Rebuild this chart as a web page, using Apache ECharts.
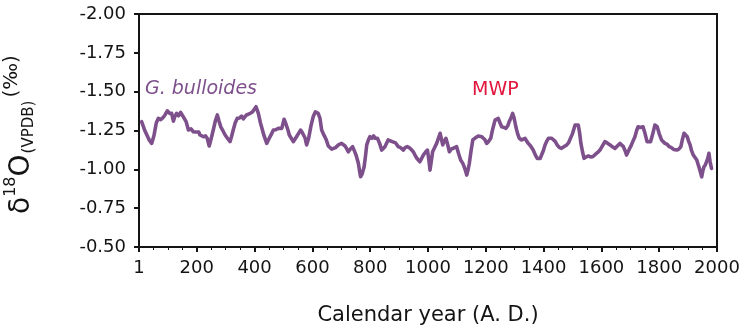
<!DOCTYPE html>
<html><head><meta charset="utf-8">
<script src="https://cdn.jsdelivr.net/npm/echarts/dist/echarts.min.js"></script>
<style>html,body{margin:0;padding:0;background:#fff}#c{width:743px;height:336px}</style>
</head><body><div id="c"></div>
<script>
// Calendar year (A.D.)
const years = [9,20,35,44,52,60,67,75,84,90,98,106,113,119,124,130,137,144,153,163,171,180,188,195,200,207,211,217,223,230,236,243,250,257,264,271,277,283,290,298,306,315,320,326,333,340,348,355,361,367,372,378,385,393,399,405,413,420,424,432,442,448,453,459,465,473,482,488,494,502,507,511,516,520,527,534,540,545,552,559,564,569,575,580,587,595,603,610,615,620,626,632,640,648,655,661,667,672,680,690,696,701,707,713,718,724,731,739,745,751,759,764,767,772,779,784,788,794,799,806,812,817,825,832,840,846,851,857,862,868,874,880,888,897,905,910,915,921,928,935,944,950,955,962,967,972,978,984,991,998,1003,1007,1012,1016,1023,1030,1036,1042,1047,1051,1056,1062,1068,1074,1080,1085,1092,1099,1106,1113,1120,1125,1130,1134,1139,1143,1149,1155,1162,1168,1174,1180,1186,1191,1197,1203,1210,1217,1224,1232,1238,1243,1249,1255,1262,1270,1276,1281,1287,1293,1298,1304,1310,1316,1324,1330,1336,1342,1347,1355,1364,1372,1378,1382,1388,1393,1399,1405,1412,1417,1422,1428,1434,1440,1447,1455,1462,1470,1480,1486,1491,1500,1509,1515,1520,1525,1529,1535,1540,1547,1555,1562,1570,1576,1581,1588,1595,1603,1612,1620,1630,1638,1647,1655,1664,1670,1676,1682,1687,1694,1701,1709,1716,1722,1727,1735,1744,1751,1758,1764,1770,1778,1785,1793,1800,1808,1814,1820,1828,1835,1842,1850,1856,1861,1868,1875,1880,1886,1891,1897,1902,1907,1912,1918,1924,1930,1935,1939,1943,1947,1951,1955,1960,1964,1968,1972,1976,1981];
// delta 18O (VPDB, per mil)
const d18O = [-1.307,-1.25,-1.19,-1.167,-1.22,-1.30,-1.328,-1.32,-1.335,-1.35,-1.377,-1.36,-1.36,-1.31,-1.34,-1.36,-1.345,-1.367,-1.339,-1.307,-1.253,-1.26,-1.242,-1.24,-1.232,-1.24,-1.221,-1.225,-1.21,-1.215,-1.2,-1.15,-1.2,-1.253,-1.31,-1.35,-1.31,-1.274,-1.25,-1.221,-1.2,-1.178,-1.21,-1.253,-1.3,-1.328,-1.33,-1.343,-1.325,-1.328,-1.35,-1.35,-1.36,-1.371,-1.38,-1.403,-1.36,-1.3,-1.274,-1.22,-1.167,-1.19,-1.2,-1.23,-1.253,-1.255,-1.264,-1.258,-1.264,-1.322,-1.3,-1.296,-1.25,-1.221,-1.2,-1.178,-1.195,-1.21,-1.23,-1.253,-1.24,-1.232,-1.2,-1.157,-1.2,-1.28,-1.34,-1.37,-1.377,-1.36,-1.33,-1.253,-1.22,-1.19,-1.15,-1.146,-1.13,-1.124,-1.14,-1.157,-1.165,-1.167,-1.16,-1.15,-1.135,-1.113,-1.13,-1.146,-1.12,-1.092,-1.039,-0.98,-0.952,-0.97,-1.017,-1.09,-1.157,-1.19,-1.21,-1.2,-1.215,-1.2,-1.2,-1.17,-1.124,-1.13,-1.146,-1.17,-1.189,-1.19,-1.18,-1.189,-1.17,-1.146,-1.14,-1.13,-1.124,-1.14,-1.146,-1.14,-1.124,-1.11,-1.092,-1.07,-1.06,-1.049,-1.07,-1.092,-1.11,-1.124,-1.06,-0.995,-1.06,-1.113,-1.14,-1.167,-1.2,-1.232,-1.19,-1.157,-1.18,-1.2,-1.16,-1.113,-1.13,-1.135,-1.14,-1.146,-1.1,-1.06,-1.04,-1.017,-0.99,-0.963,-1.0,-1.039,-1.12,-1.189,-1.2,-1.21,-1.215,-1.221,-1.21,-1.206,-1.19,-1.167,-1.18,-1.2,-1.26,-1.317,-1.32,-1.328,-1.3,-1.274,-1.27,-1.264,-1.28,-1.307,-1.33,-1.36,-1.33,-1.274,-1.23,-1.2,-1.189,-1.2,-1.2,-1.18,-1.167,-1.15,-1.124,-1.09,-1.07,-1.06,-1.07,-1.081,-1.12,-1.157,-1.185,-1.2,-1.206,-1.2,-1.2,-1.18,-1.157,-1.14,-1.135,-1.145,-1.157,-1.17,-1.178,-1.23,-1.285,-1.29,-1.285,-1.23,-1.167,-1.11,-1.071,-1.08,-1.086,-1.08,-1.081,-1.09,-1.099,-1.11,-1.124,-1.15,-1.178,-1.17,-1.157,-1.145,-1.135,-1.15,-1.167,-1.16,-1.146,-1.12,-1.092,-1.12,-1.146,-1.18,-1.21,-1.25,-1.274,-1.27,-1.274,-1.23,-1.178,-1.18,-1.178,-1.23,-1.285,-1.274,-1.23,-1.189,-1.18,-1.167,-1.16,-1.146,-1.14,-1.128,-1.13,-1.124,-1.13,-1.146,-1.19,-1.232,-1.22,-1.21,-1.18,-1.157,-1.12,-1.092,-1.08,-1.06,-1.03,-1.006,-0.98,-0.952,-0.99,-1.017,-1.03,-1.039,-1.07,-1.103,-1.05,-1.006];
const xTickLabels = ['1','200','400','600','800','1000','1200','1400','1600','1800','2000'];
const yTickLabels = ['-2.00','-1.75','-1.50','-1.25','-1.00','-0.75','-0.50'];
const xName = 'Calendar year (A. D.)';
const yNameParts = ['δ','18','O','(VPDB)','(‰)'];
const notes = ['G. bulloides','MWP'];

const FONT = 'DejaVu Sans';
const INK = '#141414';
const LINE = '#7d508c';

const data = years.map((y,i)=>[y,d18O[i]]);

const ctx = document.createElement('canvas').getContext('2d');
function tw(t,s){ctx.font = s+'px "'+FONT+'"'; return ctx.measureText(t).width;}

// y-axis title pieces (rotated), laid out bottom-to-top
const partStyle = [
  {s:28, mid:22, gap:0},
  {s:16, mid:11, gap:0},
  {s:28, mid:22, gap:0},
  {s:15, mid:29, gap:1},
  {s:20, mid:12, gap:3}
];
const graphics = [];
let cur = 214;
yNameParts.forEach((t,i)=>{
  const st = partStyle[i];
  cur -= st.gap;
  graphics.push({type:'text', x:st.mid, y:cur, rotation:Math.PI/2, silent:true,
    style:{text:t, fontSize:st.s, fontFamily:FONT, fill:INK, align:'left', verticalAlign:'middle', textAlign:'left', textVerticalAlign:'middle'}});
  cur -= tw(t, st.s);
});
graphics.push({type:'text', x:145, y:89, silent:true,
  style:{text:notes[0], fontSize:19, fontStyle:'italic', fontFamily:FONT, fill:LINE, align:'left', verticalAlign:'middle', textAlign:'left', textVerticalAlign:'middle'}});
graphics.push({type:'text', x:472, y:90, silent:true,
  style:{text:notes[1], fontSize:19, fontFamily:FONT, fill:'#e2173d', align:'left', verticalAlign:'middle', textAlign:'left', textVerticalAlign:'middle'}});

const chart = echarts.init(document.getElementById('c'), null, {renderer:'canvas'});
chart.setOption({
  animation:false,
  backgroundColor:'#fff',
  grid:{left:139, right:26, top:14, bottom:89, show:true, borderColor:INK, borderWidth:2, backgroundColor:'transparent'},
  xAxis:{type:'value', min:0, max:2000, interval:200,
    axisLine:{show:true, onZero:false, lineStyle:{color:INK, width:2}},
    axisTick:{show:true, length:5, lineStyle:{color:INK, width:2}},
    minorTick:{show:true, splitNumber:4, length:3, lineStyle:{color:INK, width:1}},
    splitLine:{show:false},
    axisLabel:{margin:12, color:INK, fontFamily:FONT, fontSize:18, formatter:v=>xTickLabels[Math.round(v/200)]},
    name:xName, nameLocation:'middle', nameGap:58,
    nameTextStyle:{color:INK, fontFamily:FONT, fontSize:21}},
  yAxis:{type:'value', inverse:true, min:-2, max:-0.5, interval:0.25,
    axisLine:{show:true, onZero:false, lineStyle:{color:INK, width:2}},
    axisTick:{show:true, length:5, lineStyle:{color:INK, width:2}},
    splitLine:{show:false},
    axisLabel:{margin:13, color:INK, fontFamily:FONT, fontSize:18, formatter:v=>yTickLabels[Math.round((v+2)/0.25)]}},
  series:[{type:'line', data:data, showSymbol:false, symbol:'none', smooth:false,
    lineStyle:{color:LINE, width:3.6, join:'round', cap:'round'}, itemStyle:{color:LINE}}],
  graphic:graphics
});
</script></body></html>
